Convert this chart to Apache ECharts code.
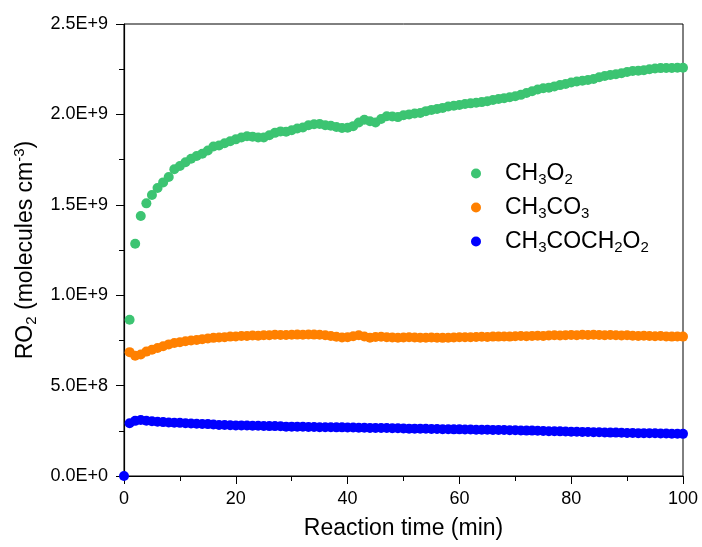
<!DOCTYPE html>
<html>
<head>
    <meta charset="utf-8" />
    <script type="text/javascript" src="https://cdn.jsdelivr.net/npm/echarts@6.0.0/dist/echarts.min.js"></script>
    <style>
      body { margin: 0; background: #fff; }
      #container { width: 702px; height: 547px; }
    </style>
</head>
<body>
<div id="container"></div>
<script>
// reaction time (min) and RO2 concentrations, in units of 1E+9 molecules cm-3
var Y_UNIT = 1e9;
var timeCH3O2 = [1,2,3,4,5,6,7,8,9,10,11,12,13,14,15,16,17,18,19,20,21,22,23,24,25,26,27,28,29,30,31,32,33,34,35,36,37,38,39,40,41,42,43,44,45,46,47,48,49,50,51,52,53,54,55,56,57,58,59,60,61,62,63,64,65,66,67,68,69,70,71,72,73,74,75,76,77,78,79,80,81,82,83,84,85,86,87,88,89,90,91,92,93,94,95,96,97,98,99,100];
var ch3o2 = [0.864,1.285,1.438,1.508,1.554,1.593,1.624,1.654,1.697,1.715,
             1.735,1.755,1.770,1.782,1.800,1.822,1.828,1.840,1.851,1.862,
             1.872,1.879,1.877,1.872,1.872,1.885,1.898,1.906,1.904,1.912,
             1.922,1.928,1.940,1.946,1.947,1.940,1.937,1.930,1.925,1.926,
             1.935,1.955,1.970,1.962,1.955,1.975,1.990,1.988,1.985,1.995,
             2.000,2.005,2.008,2.018,2.025,2.030,2.036,2.044,2.048,2.052,
             2.058,2.061,2.064,2.068,2.073,2.080,2.085,2.090,2.095,2.100,
             2.108,2.118,2.128,2.138,2.145,2.148,2.155,2.162,2.168,2.176,
             2.182,2.186,2.190,2.196,2.205,2.212,2.218,2.222,2.228,2.235,
             2.240,2.242,2.244,2.250,2.254,2.256,2.257,2.257,2.258,2.258];
var timeCH3CO3 = timeCH3O2;
var ch3co3 = [0.685,0.665,0.672,0.688,0.698,0.708,0.718,0.728,0.736,0.740,
              0.745,0.749,0.752,0.757,0.761,0.764,0.766,0.768,0.771,0.772,
              0.774,0.775,0.777,0.776,0.778,0.779,0.781,0.780,0.780,0.781,
              0.782,0.781,0.783,0.782,0.781,0.778,0.774,0.770,0.766,0.768,
              0.773,0.778,0.772,0.765,0.769,0.770,0.768,0.766,0.765,0.766,
              0.767,0.766,0.765,0.765,0.766,0.765,0.764,0.765,0.766,0.767,
              0.768,0.767,0.769,0.770,0.769,0.771,0.771,0.772,0.771,0.773,
              0.774,0.773,0.775,0.776,0.775,0.777,0.778,0.777,0.779,0.780,
              0.779,0.781,0.780,0.781,0.780,0.779,0.780,0.778,0.777,0.778,
              0.776,0.775,0.776,0.774,0.773,0.774,0.772,0.771,0.772,0.771];
var timeCH3COCH2O2 = [0].concat(timeCH3O2);
var ch3coch2o2 = [0.000,
                  0.292,0.305,0.310,0.306,0.303,0.300,0.298,0.296,0.295,0.294,
                  0.292,0.290,0.289,0.288,0.287,0.285,0.282,0.282,0.281,0.280,
                  0.280,0.279,0.278,0.278,0.277,0.276,0.276,0.275,0.273,0.273,
                  0.272,0.272,0.271,0.271,0.270,0.270,0.270,0.269,0.269,0.268,
                  0.268,0.267,0.267,0.266,0.266,0.265,0.265,0.264,0.264,0.263,
                  0.262,0.262,0.261,0.261,0.260,0.260,0.259,0.259,0.258,0.258,
                  0.257,0.257,0.256,0.256,0.256,0.255,0.255,0.254,0.253,0.253,
                  0.252,0.251,0.251,0.250,0.249,0.248,0.248,0.247,0.246,0.245,
                  0.245,0.244,0.243,0.242,0.242,0.241,0.240,0.240,0.239,0.238,
                  0.238,0.237,0.237,0.236,0.236,0.235,0.235,0.234,0.234,0.233];

var seriesNames = ['CH3O2', 'CH3CO3', 'CH3COCH2O2'];
var legendLabels = ['CH{s|3}O{s|2}', 'CH{s|3}CO{s|3}', 'CH{s|3}COCH{s|2}O{s|2}'];
var colors = ['#3cc472', '#ff8000', '#0000ff'];

function pairs(xs, ys) {
  var out = [];
  for (var i = 0; i < xs.length; i++) out.push([xs[i], ys[i]]);
  return out;
}

var dom = document.getElementById('container');
var myChart = echarts.init(dom, null, {renderer: 'canvas'});
var FONT = '"Liberation Sans", Arial, sans-serif';

var option = {
  animation: false,
  backgroundColor: '#fff',
  color: colors,
  grid: {
    left: 124, top: 24, right: 19, bottom: 71,
    show: true, borderColor: '#000', borderWidth: 1
  },
  legend: {
    orient: 'vertical',
    left: 466, top: 155,
    itemWidth: 10, itemHeight: 10, itemGap: 7,
    icon: 'circle',
    data: seriesNames,
    formatter: function (name) { return legendLabels[seriesNames.indexOf(name)]; },
    textStyle: {
      fontFamily: FONT, fontSize: 23, color: '#000', lineHeight: 26, height: 26,
      padding: [0, 0, 0, 19],
      rich: {
        s: { fontFamily: FONT, fontSize: 15, lineHeight: 26, padding: [12, 0, 0, 0] }
      }
    }
  },
  xAxis: {
    type: 'value', min: 0, max: 100, interval: 20,
    name: 'Reaction time (min)', nameLocation: 'middle', nameGap: 41,
    nameTextStyle: { fontFamily: FONT, fontSize: 23, color: '#000' },
    axisLine: { show: true, lineStyle: { color: '#000', width: 1.2 } },
    axisTick: { show: true, inside: false, length: 8, lineStyle: { color: '#000' } },
    minorTick: { show: true, splitNumber: 2, length: 5, lineStyle: { color: '#000' } },
    axisLabel: { fontFamily: FONT, fontSize: 18, color: '#000', margin: 14 },
    splitLine: { show: false }
  },
  yAxis: {
    type: 'value', min: 0, max: 2.5, interval: 0.5,
    name: '{n|RO}{s|2}{n| (molecules cm}{p|-3}{n|)}',
    nameLocation: 'middle', nameGap: 82, nameRotate: 90,
    nameTextStyle: {
      fontFamily: FONT, fontSize: 23, color: '#000',
      rich: {
        n: { fontFamily: FONT, fontSize: 23, color: '#000', lineHeight: 26 },
        s: { fontFamily: FONT, fontSize: 15, color: '#000', lineHeight: 26, padding: [12, 0, 0, 0] },
        p: { fontFamily: FONT, fontSize: 15, color: '#000', lineHeight: 26, padding: [0, 0, 12, 0] }
      }
    },
    axisLine: { show: true, lineStyle: { color: '#000', width: 1.2 } },
    axisTick: { show: true, inside: false, length: 8, lineStyle: { color: '#000' } },
    minorTick: { show: true, splitNumber: 2, length: 5, lineStyle: { color: '#000' } },
    axisLabel: {
      fontFamily: FONT, fontSize: 18, color: '#000', margin: 16,
      formatter: function (v) { return (v * Y_UNIT).toExponential(1).toUpperCase(); }
    },
    splitLine: { show: false }
  },
  series: [
    { name: seriesNames[0], type: 'scatter', symbolSize: 10, itemStyle: { opacity: 1 }, data: pairs(timeCH3O2, ch3o2) },
    { name: seriesNames[1], type: 'scatter', symbolSize: 10, itemStyle: { opacity: 1 }, data: pairs(timeCH3CO3, ch3co3) },
    { name: seriesNames[2], type: 'scatter', symbolSize: 10, itemStyle: { opacity: 1 }, data: pairs(timeCH3COCH2O2, ch3coch2o2) }
  ]
};

if (option && typeof option === 'object') {
    myChart.setOption(option);
}
</script>
</body>
</html>
